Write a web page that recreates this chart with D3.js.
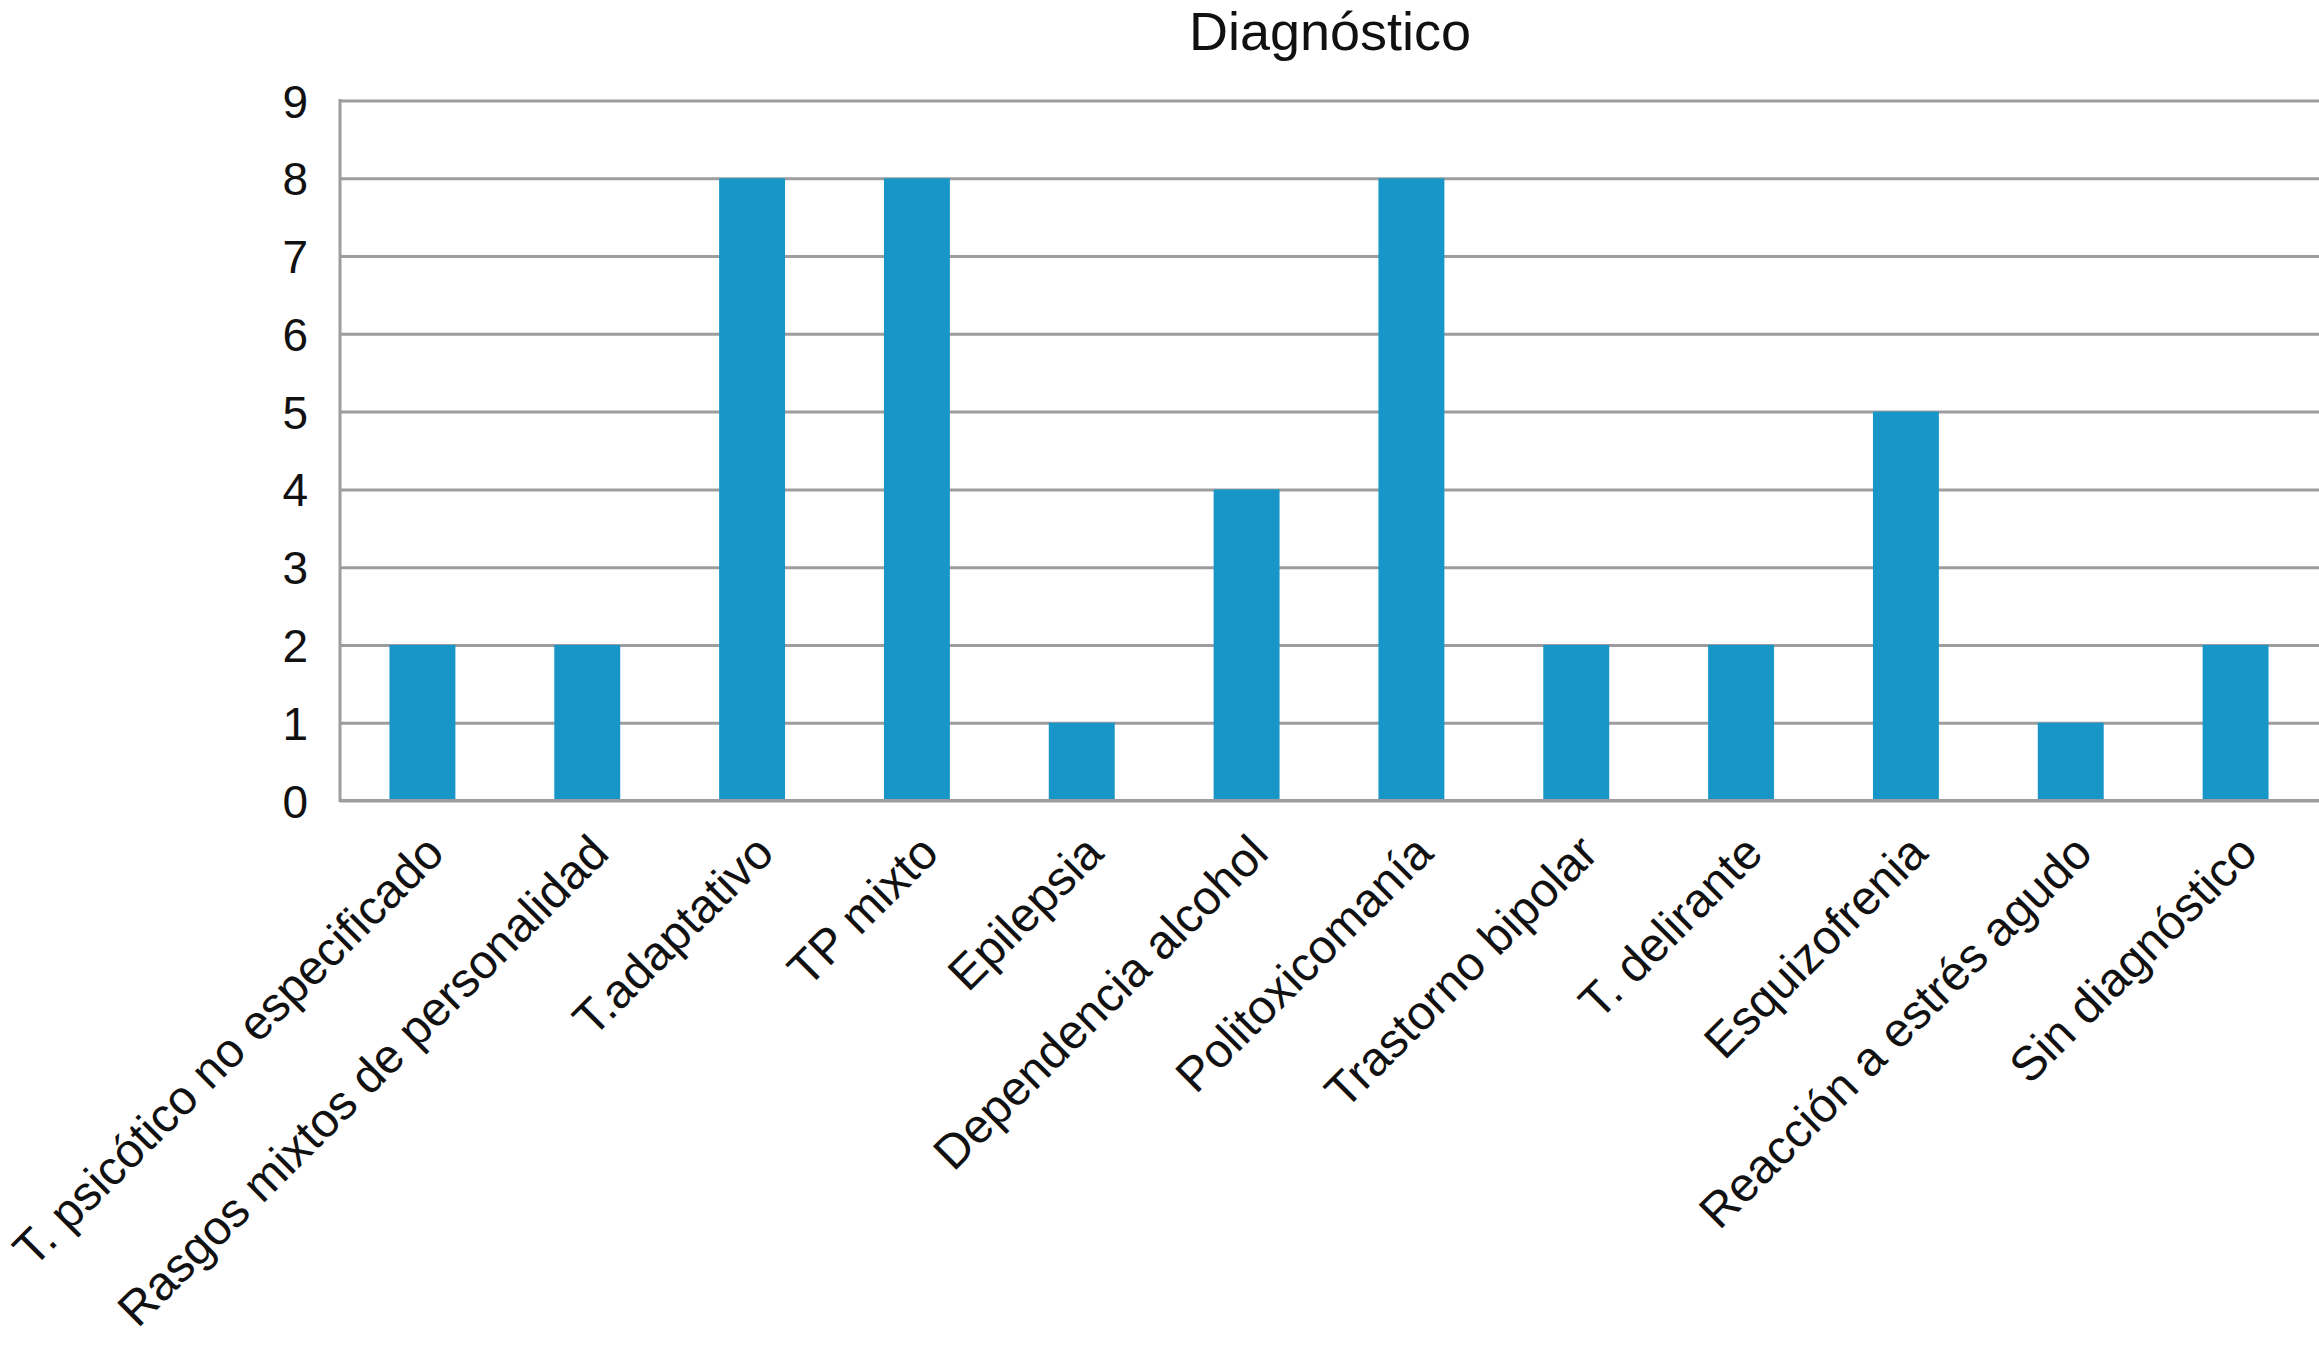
<!DOCTYPE html>
<html>
<head>
<meta charset="utf-8">
<script src="https://cdn.jsdelivr.net/npm/d3@7"></script>
<style>
  html, body { margin: 0; padding: 0; background: #fff; }
  svg { display: block; }
  text { font-family: "Liberation Sans", Arial, Helvetica, sans-serif; fill: #111; }
</style>
</head>
<body>
<svg id="chart" width="2319" height="1359"></svg>
<script>
const title = "Diagnóstico";
const categories = [
  "T. psicótico no especificado",
  "Rasgos mixtos de personalidad",
  "T.adaptativo",
  "TP mixto",
  "Epilepsia",
  "Dependencia alcohol",
  "Politoxicomanía",
  "Trastorno bipolar",
  "T. delirante",
  "Esquizofrenia",
  "Reacción a estrés agudo",
  "Sin diagnóstico"
];
const values = [2, 2, 8, 8, 1, 4, 8, 2, 2, 5, 1, 2];
const yTicks = [0, 1, 2, 3, 4, 5, 6, 7, 8, 9];

const W = 2319, H = 1359;
const plotLeft = 340, plotRight = 2318, plotTop = 100.5, plotBottom = 800.5;
const gridColor = "#9d9d9f";
const barColor = "#1896c8";

const svg = d3.select("#chart");

const x = d3.scaleBand()
  .domain(categories)
  .range([plotLeft, plotRight])
  .paddingInner(0.6)
  .paddingOuter(0.3);

const y = d3.scaleLinear()
  .domain([0, 9])
  .range([plotBottom, plotTop]);

// gridlines + y tick labels
const yAxis = d3.axisLeft(y)
  .tickValues(yTicks)
  .tickSize(-(W - plotLeft))
  .tickPadding(32)
  .tickFormat(d3.format("d"));

const gy = svg.append("g")
  .attr("transform", `translate(${plotLeft},0)`)
  .call(yAxis);
gy.select(".domain").remove();
gy.selectAll(".tick line")
  .attr("stroke", gridColor)
  .attr("stroke-width", 3);
gy.selectAll(".tick text")
  .attr("font-size", 46)
  .attr("dy", "0.36em")
  .attr("fill", "#111");

// bars
svg.append("g")
  .selectAll("rect")
  .data(values)
  .join("rect")
  .attr("x", (d, i) => x(categories[i]))
  .attr("width", x.bandwidth())
  .attr("y", d => y(d))
  .attr("height", d => y(0) - y(d))
  .attr("fill", barColor);

// axis lines
svg.append("line")
  .attr("x1", plotLeft).attr("x2", W)
  .attr("y1", y(0)).attr("y2", y(0))
  .attr("stroke", gridColor).attr("stroke-width", 3);
svg.append("line")
  .attr("x1", plotLeft).attr("x2", plotLeft)
  .attr("y1", y(0) + 1.5).attr("y2", y(9) - 1.5)
  .attr("stroke", gridColor).attr("stroke-width", 3);

// category labels
const xAxis = d3.axisBottom(x).tickSize(0).tickPadding(0);
const gx = svg.append("g")
  .attr("transform", `translate(0,${plotBottom})`)
  .call(xAxis);
gx.select(".domain").remove();
gx.selectAll(".tick text")
  .attr("font-size", 48)
  .attr("fill", "#111")
  .attr("text-anchor", "end")
  .attr("dy", null)
  .attr("y", 0)
  .attr("transform", "translate(24,55) rotate(-45)");

// title
svg.append("text")
  .attr("x", (plotLeft + plotRight) / 2 + 1)
  .attr("y", 50)
  .attr("text-anchor", "middle")
  .attr("font-size", 54)
  .text(title);
</script>
</body>
</html>
